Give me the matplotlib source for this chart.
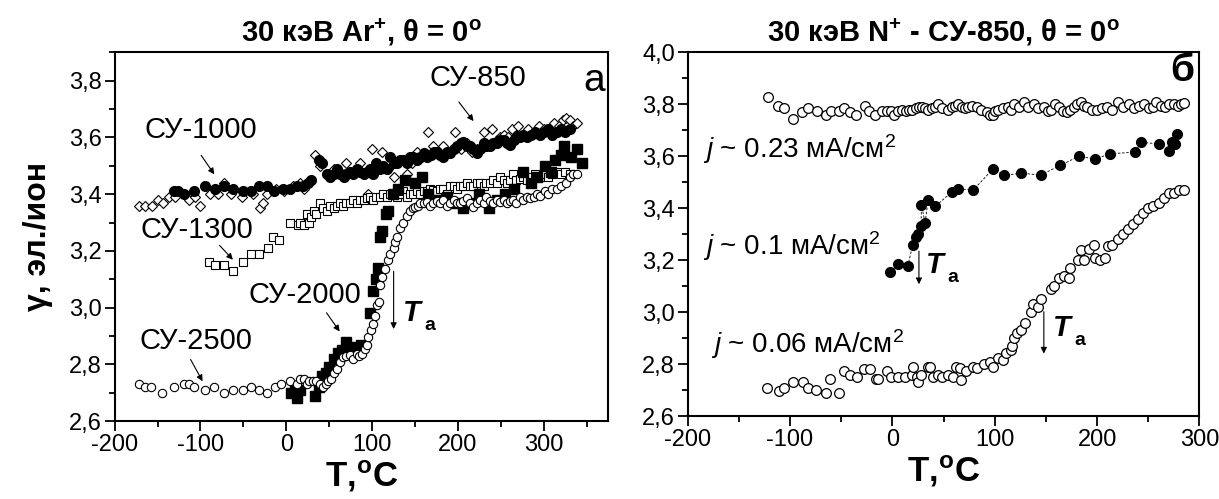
import numpy as np
import matplotlib
matplotlib.use("Agg")
import matplotlib.pyplot as plt
from matplotlib.ticker import MultipleLocator, FuncFormatter

plt.rcParams['font.family'] = ['Liberation Sans', 'DejaVu Sans']
plt.rcParams['axes.unicode_minus'] = False
plt.rcParams['mathtext.fontset'] = 'custom'
plt.rcParams['mathtext.rm'] = 'Liberation Sans'
plt.rcParams['mathtext.it'] = 'Liberation Sans:italic'
plt.rcParams['mathtext.bf'] = 'Liberation Sans:bold'

# ---- panel a: 30 keV Ar+, (T, gamma) pairs ----
su850 = [(-172, 3.36), (-165, 3.36), (-157, 3.36), (-150, 3.38), (-144, 3.37), (-137, 3.39),
         (-130, 3.39), (-113, 3.38), (-106, 3.39), (-100, 3.36), (-89, 3.40), (-79, 3.40),
         (-73, 3.44), (-64, 3.40), (-52, 3.39), (-39, 3.40), (-31, 3.35), (-27, 3.37),
         (-22, 3.40), (-12, 3.42), (-3, 3.41), (8, 3.43), (16, 3.44), (21, 3.42), (33, 3.54),
         (39, 3.50), (48, 3.47), (55, 3.49), (62, 3.48), (70, 3.51), (78, 3.48), (86, 3.51),
         (95, 3.40), (100, 3.56), (105, 3.50), (111, 3.55), (118, 3.49), (125, 3.46),
         (132, 3.52), (140, 3.47), (146, 3.51), (152, 3.55), (158, 3.53), (165, 3.62),
         (171, 3.57), (177, 3.55), (183, 3.57), (187, 3.55), (196, 3.62), (203, 3.56),
         (210, 3.58), (216, 3.55), (222, 3.56), (230, 3.62), (239, 3.63), (245, 3.59),
         (249, 3.60), (253, 3.61), (258, 3.60), (263, 3.63), (270, 3.64), (276, 3.61),
         (282, 3.63), (288, 3.62), (294, 3.64), (300, 3.63), (306, 3.62), (312, 3.65),
         (318, 3.64), (322, 3.66), (326, 3.67), (330, 3.66), (334, 3.64), (338, 3.65)]

su1000 = [(-131, 3.41), (-126, 3.41), (-119, 3.40), (-107, 3.41), (-95, 3.43), (-83, 3.42),
          (-73, 3.43), (-62, 3.42), (-50, 3.41), (-41, 3.41), (-32, 3.43), (-22, 3.43),
          (-14, 3.41), (-4, 3.42), (4, 3.42), (12, 3.43), (20, 3.43), (25, 3.44), (29, 3.45),
          (38, 3.52), (41, 3.51), (47, 3.47), (51, 3.46), (55, 3.47), (59, 3.49), (63, 3.47),
          (67, 3.46), (70, 3.47), (74, 3.48), (78, 3.47), (82, 3.49), (86, 3.48), (90, 3.47),
          (94, 3.48), (98, 3.49), (101, 3.47), (105, 3.51), (109, 3.49), (113, 3.50),
          (117, 3.49), (121, 3.53), (125, 3.51), (129, 3.51), (132, 3.52), (136, 3.52),
          (140, 3.51), (144, 3.53), (148, 3.53), (152, 3.52), (156, 3.53), (160, 3.545),
          (164, 3.53), (168, 3.54), (172, 3.55), (175, 3.55), (179, 3.54), (183, 3.53),
          (187, 3.55), (191, 3.545), (195, 3.56), (199, 3.57), (203, 3.58), (206, 3.585),
          (210, 3.57), (214, 3.57), (218, 3.56), (222, 3.545), (226, 3.56), (230, 3.58),
          (233, 3.57), (237, 3.57), (241, 3.58), (245, 3.58), (249, 3.59), (253, 3.59),
          (257, 3.58), (261, 3.575), (265, 3.59), (269, 3.605), (272, 3.60), (276, 3.61),
          (280, 3.60), (285, 3.61), (290, 3.62), (295, 3.61), (300, 3.62), (305, 3.63),
          (310, 3.61), (315, 3.62), (320, 3.63), (325, 3.62), (330, 3.63)]

su1300 = [(-90, 3.16), (-83, 3.15), (-73, 3.15), (-62, 3.13), (-50, 3.16), (-41, 3.19),
          (-32, 3.19), (-21, 3.21), (-15.5, 3.25), (-8, 3.24), (4, 3.30), (13.6, 3.29),
          (16, 3.30), (20.6, 3.29), (24, 3.33), (26, 3.30), (29, 3.32), (32, 3.34), (35, 3.33),
          (39.6, 3.37), (43, 3.35), (47, 3.34), (51, 3.36), (55, 3.35), (59, 3.36),
          (62.6, 3.37), (66, 3.36), (70, 3.37), (74, 3.37), (78, 3.38), (82, 3.37), (86, 3.38),
          (90, 3.38), (93.7, 3.385), (97, 3.39), (101, 3.38), (105, 3.39), (109, 3.39),
          (113, 3.40), (117, 3.39), (121, 3.40), (125, 3.40), (129, 3.39), (132.5, 3.40),
          (136, 3.41), (140, 3.39), (144, 3.40), (148, 3.40), (152, 3.41), (156, 3.40),
          (160, 3.41), (163.6, 3.41), (167, 3.42), (171, 3.415), (175, 3.41), (179, 3.42),
          (183, 3.42), (187, 3.40), (191, 3.43), (195, 3.43), (199, 3.42), (202, 3.43),
          (206, 3.43), (210, 3.44), (214, 3.43), (218, 3.43), (222, 3.44), (226, 3.44),
          (230, 3.43), (233, 3.44), (237, 3.44), (241, 3.45), (245, 3.44), (249, 3.46),
          (253, 3.45), (257, 3.44), (260, 3.45), (264, 3.47), (268, 3.45), (272, 3.455),
          (276, 3.46), (280, 3.45), (285, 3.46), (290, 3.47), (295, 3.46), (300, 3.47),
          (305, 3.46), (310, 3.47), (315, 3.48), (320, 3.47), (325, 3.48), (330, 3.47)]

su2000 = [(5, 2.70), (10, 2.72), (13, 2.68), (16, 2.71), (34, 2.69), (38, 2.72), (42, 2.76),
          (46, 2.77), (50, 2.79), (55, 2.82), (60, 2.84), (65, 2.85), (70, 2.88), (75, 2.86),
          (80, 2.85), (87, 2.87), (98, 2.98), (101, 3.06), (104, 3.10), (107, 3.14),
          (109, 3.25), (112, 3.27), (116, 3.33), (119, 3.34), (124, 3.40), (130, 3.42),
          (138, 3.45), (150, 3.44), (158, 3.46), (165, 3.40), (175, 3.38), (187, 3.39),
          (195, 3.37), (206, 3.35), (215, 3.37), (225, 3.40), (236, 3.35), (245, 3.38),
          (255, 3.40), (265, 3.42), (276, 3.48), (285, 3.44), (292, 3.46), (301, 3.50),
          (308, 3.48), (313, 3.52), (320, 3.54), (324, 3.57), (331, 3.53), (338, 3.56),
          (344, 3.51)]

su2500 = [(-172, 2.73), (-165, 2.72), (-158, 2.72), (-145, 2.70), (-131, 2.72), (-119, 2.73),
          (-113, 2.73), (-107, 2.72), (-95, 2.71), (-84, 2.72), (-73, 2.70), (-62, 2.71),
          (-51, 2.71), (-41, 2.72), (-32, 2.71), (-22, 2.70), (-13.5, 2.72), (-6, 2.73),
          (4, 2.74), (13, 2.73), (16, 2.75), (21, 2.75), (24, 2.73), (26, 2.74), (31, 2.74),
          (35, 2.74), (39, 2.73), (43, 2.72), (46, 2.73), (49, 2.74), (52, 2.75), (55, 2.77),
          (58.7, 2.785), (62.6, 2.81), (66.5, 2.826), (70, 2.83), (74, 2.832), (78, 2.82),
          (82, 2.838), (85, 2.83), (88, 2.838), (91.7, 2.856), (93.5, 2.87), (95.6, 2.897),
          (98.3, 2.92), (101.4, 2.944), (103, 2.97), (105.3, 3.009), (108, 3.02),
          (109, 3.079), (111, 3.108), (115, 3.138), (118, 3.167), (121, 3.191), (125, 3.209),
          (127, 3.23), (129, 3.25), (132.5, 3.28), (136, 3.30), (140, 3.325), (144, 3.34),
          (147, 3.35), (150, 3.356), (153, 3.36), (156, 3.368), (160, 3.37), (163.6, 3.373),
          (167, 3.36), (171, 3.368), (175, 3.375), (179, 3.37), (183, 3.38), (187, 3.36),
          (191, 3.37), (195, 3.38), (199, 3.37), (202, 3.368), (206, 3.375), (210, 3.385),
          (214, 3.37), (218, 3.356), (222, 3.37), (226, 3.38), (230, 3.37), (233, 3.39),
          (237, 3.375), (241, 3.368), (245, 3.38), (249, 3.373), (253, 3.38), (256.6, 3.368),
          (260, 3.375), (264, 3.38), (268, 3.37), (272, 3.39), (276, 3.38), (280, 3.39),
          (284, 3.385), (288, 3.39), (292, 3.40), (296, 3.395), (301, 3.41), (305, 3.40),
          (310, 3.42), (315, 3.42), (320, 3.43), (326, 3.44), (330, 3.46), (334, 3.47),
          (338, 3.47)]

# ---- panel б: 30 keV N+ on СУ-850 ----
j023 = [(-121, 3.83), (-112, 3.795), (-106, 3.785), (-97, 3.743), (-88, 3.772), (-82, 3.785),
        (-74, 3.776), (-65, 3.76), (-60, 3.776), (-52, 3.776), (-47, 3.785), (-41, 3.772),
        (-35, 3.76), (-27, 3.795), (-23, 3.776), (-17, 3.76), (-10, 3.775), (-5, 3.776),
        (-1, 3.775), (2, 3.76), (6, 3.775), (9, 3.78), (13, 3.775), (16, 3.78), (19, 3.78),
        (23, 3.785), (26, 3.79), (29, 3.79), (32, 3.785), (35, 3.78), (39, 3.785), (42, 3.79),
        (45, 3.80), (49, 3.785), (54, 3.78), (58, 3.79), (61, 3.795), (64, 3.80), (68, 3.79),
        (71, 3.785), (74, 3.79), (78, 3.795), (83, 3.79), (87, 3.78), (92, 3.77), (95, 3.76),
        (98, 3.76), (100, 3.775), (103, 3.78), (108, 3.785), (113, 3.79), (116, 3.78),
        (119, 3.80), (124, 3.79), (129, 3.81), (133, 3.79), (138, 3.80), (142, 3.785),
        (148, 3.79), (152, 3.775), (155, 3.78), (159, 3.80), (163, 3.79), (167, 3.775),
        (171, 3.77), (174, 3.78), (177, 3.79), (180, 3.80), (184, 3.81), (187, 3.795),
        (190, 3.79), (195, 3.78), (200, 3.78), (205, 3.785), (210, 3.79), (215, 3.78),
        (220, 3.81), (225, 3.79), (231, 3.80), (236, 3.785), (241, 3.795), (246, 3.80),
        (251, 3.785), (255, 3.79), (258, 3.81), (262, 3.795), (266, 3.79), (270, 3.80),
        (275, 3.80), (279, 3.795), (282, 3.80), (285, 3.805)]

j01 = [(-2, 3.155), (6, 3.185), (15, 3.177), (20, 3.259), (23, 3.289), (25, 3.30),
       (28, 3.33), (32, 3.343), (28.5, 3.414), (35, 3.433), (42, 3.408), (58, 3.462),
       (64, 3.475), (79, 3.47), (98, 3.55), (109, 3.527), (126, 3.535), (145, 3.528),
       (164, 3.565), (182, 3.60), (198, 3.59), (213, 3.61), (237, 3.616), (243, 3.654),
       (260, 3.648), (270, 3.62), (273, 3.654), (276, 3.648), (278, 3.685)]

j006 = [(-122, 2.71), (-111, 2.697), (-106, 2.71), (-97, 2.732), (-87, 2.732), (-82, 2.71),
        (-75, 2.70), (-65, 2.69), (-61, 2.742), (-52, 2.689), (-47, 2.772), (-41, 2.759),
        (-34, 2.75), (-28, 2.78), (-22, 2.78), (-16, 2.742), (-14, 2.742), (-5, 2.774),
        (-1, 2.75), (6, 2.75), (12, 2.75), (19, 2.76), (20, 2.79), (24, 2.75), (25, 2.73),
        (28, 2.76), (35, 2.79), (37, 2.79), (40, 2.75), (45, 2.76), (49, 2.75), (54, 2.76),
        (59, 2.75), (62, 2.79), (66, 2.785), (67, 2.74), (72, 2.775), (79, 2.79), (83, 2.785),
        (90, 2.80), (95, 2.81), (98, 2.79), (103, 2.823), (108, 2.817), (111, 2.843),
        (116, 2.856), (117, 2.869), (119, 2.90), (122, 2.92), (126, 2.93), (130, 2.96),
        (135, 3.00), (137, 3.03), (142, 3.02), (145, 3.05), (155, 3.09), (158, 3.10),
        (163, 3.13), (168, 3.14), (173, 3.13), (174, 3.17), (181, 3.20), (184, 3.24),
        (187, 3.20), (192, 3.245), (197, 3.26), (198, 3.21), (203, 3.20), (208, 3.21),
        (211, 3.255), (215, 3.26), (220, 3.28), (225, 3.30), (230, 3.32), (235, 3.34),
        (240, 3.36), (245, 3.38), (250, 3.40), (255, 3.41), (260, 3.42), (265, 3.44),
        (270, 3.46), (275, 3.46), (280, 3.47), (285, 3.47)]


def xy(pairs):
    a = np.array(pairs, dtype=float)
    return a[:, 0], a[:, 1]


comma = FuncFormatter(lambda v, p: f"{v:.1f}".replace(".", ","))


def style_axes(ax, xlim, ylim):
    ax.set_xlim(*xlim)
    ax.set_ylim(*ylim)
    ax.xaxis.set_major_locator(MultipleLocator(100))
    ax.xaxis.set_minor_locator(MultipleLocator(50))
    ax.yaxis.set_major_locator(MultipleLocator(0.2))
    ax.yaxis.set_minor_locator(MultipleLocator(0.1))
    ax.yaxis.set_major_formatter(comma)
    ax.tick_params(which='both', direction='out', top=False, right=False,
                   labelsize=17, width=1.3)
    ax.tick_params(which='major', length=7, pad=2)
    ax.tick_params(which='minor', length=4)
    for s in ax.spines.values():
        s.set_linewidth(1.5)
    ax.set_xlabel("T,$^{\\mathbf{o}}$C", fontsize=25, fontweight='bold', labelpad=2)


def t_a(ax, x, y):
    ax.text(x, y, "T", fontsize=21, fontweight='bold', fontstyle='italic', va='center')
    ax.annotate("a", xy=(x, y), xytext=(15, -9), textcoords='offset points',
                fontsize=14, fontweight='bold', va='center')


fig = plt.figure(figsize=(12.19, 4.99), dpi=100)
axa = fig.add_axes([0.094, 0.156, 0.405, 0.739])
axb = fig.add_axes([0.564, 0.166, 0.420, 0.729])

# panel a
x, y = xy(su850)
axa.plot(x, y, 'D', ms=5, mfc='white', mec='black', mew=0.8)
x, y = xy(su1000)
axa.plot(x, y, 'o', ms=7, color='black')
x, y = xy(su1300)
axa.plot(x, y, 's', ms=5.5, mfc='white', mec='black', mew=0.8)
x, y = xy(su2000)
axa.plot(x, y, 's', ms=6.5, color='black')
x, y = xy(su2500)
axa.plot(x, y, 'o', ms=6, mfc='white', mec='black', mew=0.8)

style_axes(axa, (-200, 375), (2.6, 3.9))
axa.set_title("30 кэВ Ar$^{\\mathbf{+}}$, θ = 0$^{\\mathbf{o}}$", fontsize=21,
              fontweight='bold', pad=8)
axa.set_ylabel("γ, эл./ион", fontsize=23, fontweight='bold', labelpad=12)

arrow = dict(arrowstyle='-|>', color='black', lw=0.8, mutation_scale=9)
lab = dict(fontsize=21, ha='center', va='center')
axa.annotate("", xy=(220, 3.65), xytext=(199, 3.733), arrowprops=arrow)
axa.text(223, 3.81, "СУ-850", **lab)
axa.annotate("", xy=(-82, 3.462), xytext=(-101, 3.545), arrowprops=arrow)
axa.text(-99, 3.625, "СУ-1000", **lab)
axa.annotate("", xy=(-60, 3.162), xytext=(-80, 3.227), arrowprops=arrow)
axa.text(-104, 3.275, "СУ-1300", **lab)
axa.annotate("", xy=(64, 2.908), xytext=(45, 2.99), arrowprops=arrow)
axa.text(22, 3.045, "СУ-2000", **lab)
axa.annotate("", xy=(-96, 2.732), xytext=(-113, 2.826), arrowprops=arrow)
axa.text(-105, 2.883, "СУ-2500", **lab)
axa.annotate("", xy=(125, 2.915), xytext=(125, 3.138), arrowprops=arrow)
t_a(axa, 136, 2.98)
axa.text(359, 3.80, "а", fontsize=28, ha='center', va='center')

# panel b
x, y = xy(j023)
axb.plot(x, y, 'o', ms=7, mfc='white', mec='black', mew=0.9)
x, y = xy(j01)
order = np.argsort(x)
axb.plot(x[order], y[order], '--', lw=0.6, color='black', dashes=(3, 2))
axb.plot(x, y, 'o', ms=7, color='black')
x, y = xy(j006)
axb.plot(x, y, 'o', ms=7, mfc='white', mec='black', mew=0.9)

style_axes(axb, (-200, 300), (2.6, 4.0))
axb.set_title("30 кэВ N$^{\\mathbf{+}}$ - СУ-850, θ = 0$^{\\mathbf{o}}$", fontsize=21,
              fontweight='bold', pad=8)

jl = dict(fontsize=20, ha='left', va='center')
axb.text(-185, 3.628, "$\\mathit{j}$ ~ 0.23 мА/см$^{2}$", **jl)
axb.text(-185, 3.253, "$\\mathit{j}$ ~ 0.1 мА/см$^{2}$", **jl)
axb.text(-177, 2.878, "$\\mathit{j}$ ~ 0.06 мА/см$^{2}$", **jl)
axb.annotate("", xy=(26, 3.097), xytext=(26, 3.246), arrowprops=arrow)
t_a(axb, 33, 3.18)
axb.annotate("", xy=(148, 2.83), xytext=(148, 3.013), arrowprops=arrow)
t_a(axb, 157, 2.94)
axb.text(283, 3.93, "б", fontsize=28, fontweight='bold', ha='center', va='center')

fig.savefig("out.png", dpi=100)
